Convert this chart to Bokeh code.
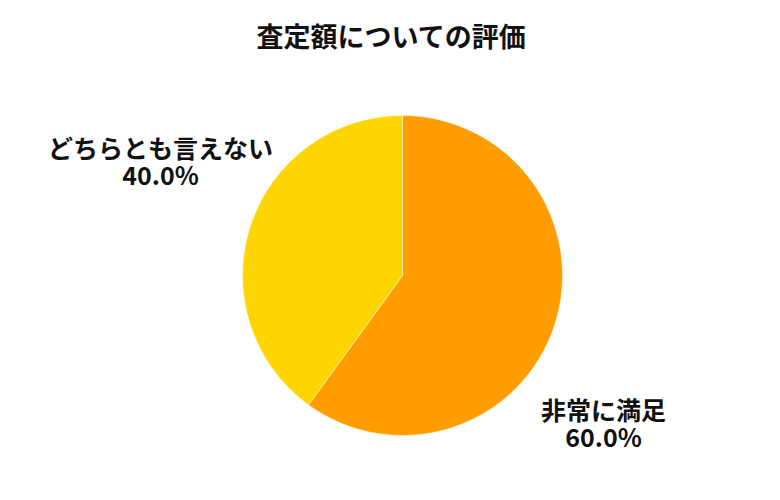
import numpy as np
from bokeh.plotting import figure
from bokeh.models import Range1d, ColumnDataSource
from bokeh.core.properties import value
from bokeh.embed import file_html
from bokeh.resources import INLINE

title_text = "査定額についての評価"
categories = ["非常に満足", "どちらとも言えない"]
values = [60.0, 40.0]
colors = ["#FF9D00", "#FFD500"]

W, H = 764, 484
FONT = "Noto Sans CJK JP"

p = figure(width=W, height=H, output_backend="svg", toolbar_location=None,
           x_range=Range1d(0, W), y_range=Range1d(0, H), min_border=0)
p.axis.visible = False
p.grid.visible = False
p.outline_line_color = None
p.background_fill_color = "white"

# pie geometry (screen px -> plot coords: x, H-y)
cx, cy, r = 402, H - 275, 160

vals = np.array(values)
frac = vals / vals.sum()
ends = np.pi / 2 - 2 * np.pi * np.concatenate([[0], np.cumsum(frac)[:-1]])
starts = ends - 2 * np.pi * frac

src = ColumnDataSource(dict(start=starts, end=ends, color=colors, cat=categories))
p.wedge(x=cx, y=cy, radius=r, start_angle="start", end_angle="end",
        fill_color="color", line_color="white", line_width=0.5, source=src)

# labels
label_pos = [(603, H - 408), (160, H - 146)]
lx = [pt[0] for pt in label_pos]
ly = [pt[1] for pt in label_pos]
pct = [f"{v:.1f}%" for v in frac * 100]
p.text(x=lx, y=ly, text=categories, text_align="center", text_baseline="middle",
       text_font=value(FONT), text_font_style="bold", text_font_size="25px",
       text_color="#111111")
p.text(x=lx, y=[v - 27 for v in ly], text=pct, text_align="center", text_baseline="middle",
       text_font=value(FONT), text_font_style="bold", text_font_size="25px",
       text_color="#111111")

p.text(x=[391], y=[H - 35], text=[title_text], text_align="center",
       text_baseline="middle", text_font=value(FONT), text_font_style="bold",
       text_font_size="27px", text_color="#111111")

open("out.html", "w").write(file_html(p, INLINE))
